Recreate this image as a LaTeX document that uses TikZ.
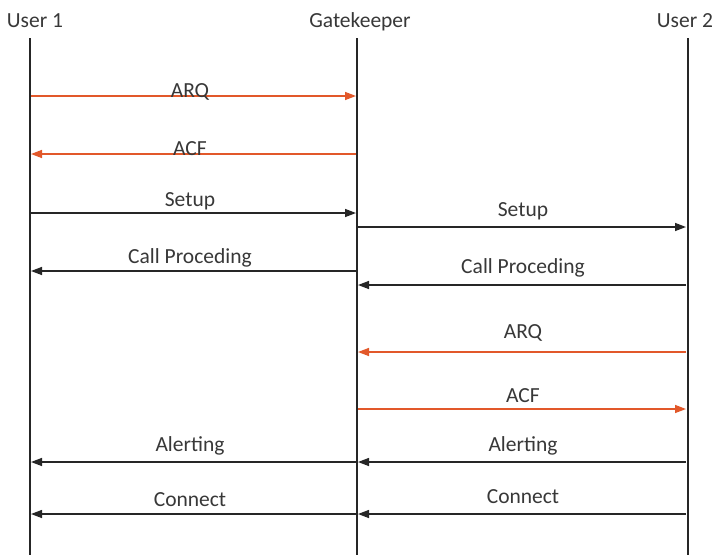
\documentclass[tikz,border=0pt]{standalone}
\usepackage{fontspec}
\setmainfont{Carlito}
\usetikzlibrary{arrows.meta}
\definecolor{msgorange}{HTML}{E2582A}
\definecolor{ink}{HTML}{262626}
\definecolor{txt}{HTML}{383838}
\begin{document}
\begin{tikzpicture}[x=1pt,y=-1pt,
  lifeline/.style={draw=ink,line width=2.4pt},
  actor/.style={anchor=base,text=txt,font=\fontsize{21.5}{26}\selectfont,inner sep=0pt},
  msglabel/.style={anchor=base,text=txt,font=\fontsize{21.5}{26}\selectfont,inner sep=0pt},
  msg/.style={draw=ink,line width=1.4pt,-{Triangle[length=11pt,width=8pt]}},
  msgreq/.style={msg,draw=msgorange,-{Triangle[length=11pt,width=8pt,color=msgorange]}}]
\useasboundingbox (0,0) rectangle (715,555);
\fill[white] (0,0) rectangle (715,555);

% participants
\node[actor] (user1) at (35,27) {User 1};
\node[actor] (gk) at (360,27) {Gatekeeper};
\node[actor] (user2) at (685,27) {User 2};

% lifelines
\coordinate (u1top) at (30,38);  \coordinate (u1bot) at (30,555);
\coordinate (gktop) at (357,38); \coordinate (gkbot) at (357,555);
\coordinate (u2top) at (688,38); \coordinate (u2bot) at (688,555);
\draw[lifeline] (u1top) -- (u1bot);
\draw[lifeline] (gktop) -- (gkbot);
\draw[lifeline] (u2top) -- (u2bot);

% message end points on the lifelines
\coordinate (a1) at (31,96);   \coordinate (a2) at (356,96);
\coordinate (b1) at (31,154);  \coordinate (b2) at (356,154);
\coordinate (c1) at (31,213);  \coordinate (c2) at (356,213);
\coordinate (d1) at (31,271);  \coordinate (d2) at (356,271);
\coordinate (e1) at (358,227); \coordinate (e2) at (686,227);
\coordinate (f1) at (358,285); \coordinate (f2) at (686,285);
\coordinate (g1) at (358,352); \coordinate (g2) at (686,352);
\coordinate (h1) at (358,409); \coordinate (h2) at (686,409);
\coordinate (i1) at (31,462);  \coordinate (i2) at (356,462);
\coordinate (j1) at (358,462); \coordinate (j2) at (686,462);
\coordinate (k1) at (31,514);  \coordinate (k2) at (356,514);
\coordinate (l1) at (358,514); \coordinate (l2) at (686,514);

% User 1 <-> Gatekeeper
\draw[msgreq] (a1) -- (a2);
\node[msglabel] (la) at (190,97) {ARQ};
\draw[msgreq] (b2) -- (b1);
\node[msglabel] (lb) at (190,155) {ACF};
\draw[msg] (c1) -- (c2);
\node[msglabel] (lc) at (190,206) {Setup};
\draw[msg] (d2) -- (d1);
\node[msglabel] (ld) at (190,263) {Call Proceding};

% Gatekeeper <-> User 2
\draw[msg] (e1) -- (e2);
\node[msglabel] (le) at (523,216) {Setup};
\draw[msg] (f2) -- (f1);
\node[msglabel] (lf) at (523,273) {Call Proceding};
\draw[msgreq] (g2) -- (g1);
\node[msglabel] (lg) at (523,338) {ARQ};
\draw[msgreq] (h1) -- (h2);
\node[msglabel] (lh) at (523,402) {ACF};

% alerting and connect
\draw[msg] (i2) -- (i1);
\node[msglabel] (li) at (190,451) {Alerting};
\draw[msg] (j2) -- (j1);
\node[msglabel] (lj) at (523,451) {Alerting};
\draw[msg] (k2) -- (k1);
\node[msglabel] (lk) at (190,506) {Connect};
\draw[msg] (l2) -- (l1);
\node[msglabel] (ll) at (523,503) {Connect};
\end{tikzpicture}
\end{document}
